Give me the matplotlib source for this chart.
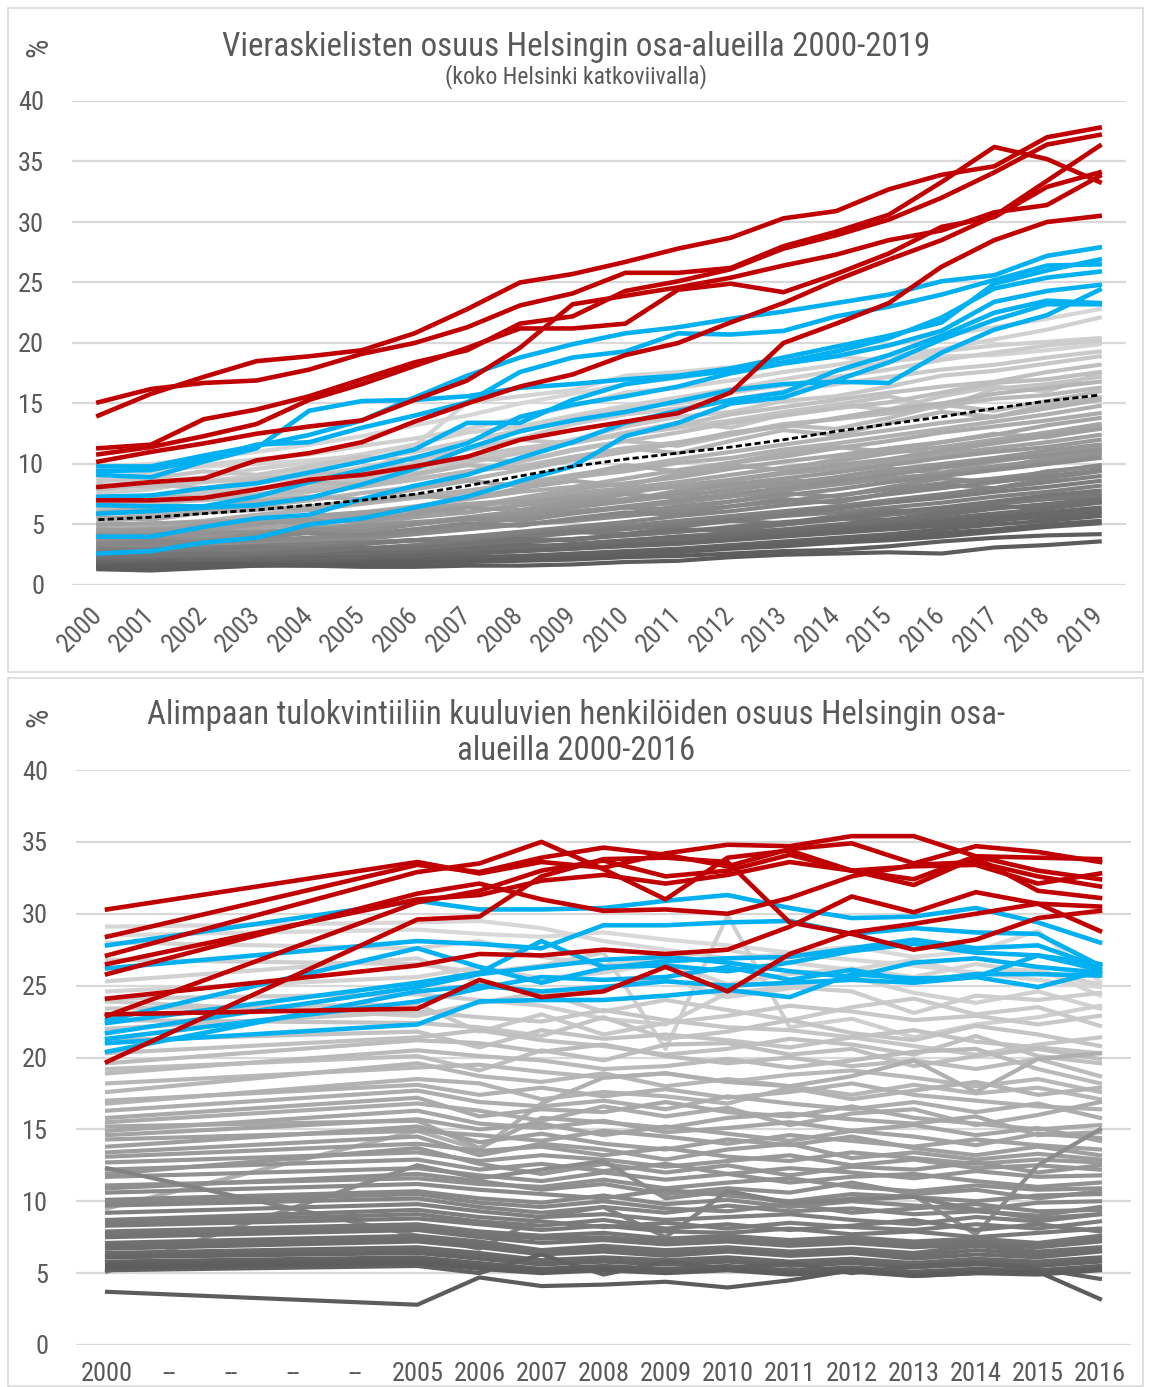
import numpy as np
import matplotlib
matplotlib.use("Agg")
import matplotlib.pyplot as plt
from matplotlib.patches import Rectangle

plt.rcParams['font.family'] = ['Roboto Condensed', 'Liberation Sans Narrow', 'Liberation Sans', 'DejaVu Sans']

W, H = 1149, 1387
TXT = '#595959'
RED = '#c00000'
BLUE = '#00b0f0'
GRID = '#d9d9d9'

# ---------------- top chart: foreign-language speakers 2000-2019 ----------------
years_top = [str(y) for y in range(2000, 2020)]

helsinki_top = [5.4, 5.6, 5.9, 6.2, 6.6, 7.0, 7.5, 8.2, 9.0, 9.8, 10.4, 10.9, 11.4, 12.0, 12.7, 13.3, 13.9, 14.6, 15.2, 15.7]

red_top = [
    [14.0, 15.8, 17.2, 18.5, 18.9, 19.4, 20.8, 22.8, 25.0, 25.7, 26.7, 27.8, 28.7, 30.3, 30.9, 32.7, 33.9, 34.6, 37.0, 37.8],
    [15.1, 16.2, 16.7, 16.9, 17.8, 19.1, 20.0, 21.3, 23.1, 24.1, 25.8, 25.8, 26.2, 28.0, 29.2, 30.6, 33.3, 36.2, 35.2, 33.3],
    [11.3, 11.6, 13.7, 14.5, 15.6, 17.0, 18.4, 19.4, 21.6, 22.2, 24.3, 25.1, 26.1, 27.8, 28.9, 30.2, 32.0, 34.1, 36.4, 37.2],
    [10.8, 11.4, 12.3, 13.3, 15.3, 16.6, 18.1, 19.6, 21.2, 21.2, 21.6, 24.4, 24.9, 24.2, 25.7, 27.4, 29.6, 30.4, 32.9, 34.1],
    [10.2, 11.0, 11.7, 12.5, 13.1, 13.6, 15.3, 16.9, 19.6, 23.2, 23.9, 24.6, 25.4, 26.4, 27.3, 28.5, 29.3, 30.8, 31.4, 33.8],
    [8.1, 8.5, 8.8, 10.3, 10.9, 11.8, 13.5, 15.0, 16.4, 17.4, 19.0, 20.0, 21.7, 23.3, 25.2, 26.9, 28.5, 30.5, 33.4, 36.3],
    [7.0, 7.0, 7.2, 7.9, 8.7, 9.1, 9.8, 10.6, 12.0, 12.8, 13.5, 14.2, 15.9, 20.0, 21.6, 23.3, 26.3, 28.5, 30.0, 30.5],
]

blue_top = [
    [9.8, 9.8, 10.7, 11.5, 12.4, 13.6, 15.5, 17.3, 18.8, 19.9, 20.8, 21.3, 22.0, 22.6, 23.3, 24.0, 25.1, 25.6, 27.2, 27.9],
    [9.1, 8.9, 10.2, 11.3, 14.4, 15.2, 15.3, 15.6, 16.3, 16.6, 17.0, 17.3, 17.9, 18.8, 19.7, 20.6, 21.7, 24.9, 26.0, 26.9],
    [9.4, 9.5, 10.4, 11.6, 11.8, 13.0, 14.0, 15.1, 17.6, 18.8, 19.3, 20.8, 20.7, 21.0, 22.2, 23.0, 24.0, 25.2, 26.4, 26.5],
    [7.3, 7.4, 8.0, 8.4, 9.3, 10.2, 11.2, 13.4, 13.4, 15.3, 16.6, 17.2, 17.7, 18.4, 19.3, 20.4, 22.1, 24.5, 25.4, 25.9],
    [6.6, 6.5, 6.5, 7.3, 8.5, 9.5, 10.5, 11.7, 13.9, 14.9, 15.6, 16.4, 17.5, 18.3, 18.9, 19.8, 21.0, 23.4, 24.3, 24.8],
    [5.9, 6.1, 6.4, 6.6, 7.2, 8.3, 9.6, 11.3, 12.7, 13.6, 14.3, 15.2, 16.1, 16.6, 16.8, 16.7, 19.2, 21.1, 22.3, 24.4],
    [4.0, 4.0, 4.8, 5.5, 5.8, 7.1, 8.2, 9.1, 10.5, 11.8, 13.4, 14.4, 15.3, 15.9, 17.7, 19.0, 20.6, 22.5, 23.5, 23.3],
    [2.6, 2.8, 3.5, 3.9, 5.0, 5.5, 6.4, 7.3, 8.6, 9.8, 12.3, 13.4, 15.0, 15.5, 16.9, 18.4, 20.3, 21.9, 23.2, 23.2],
]

gray_top = [
    [9.8, 10.0, 10.5, 11.0, 11.6, 12.3, 13.2, 14.0, 15.0, 15.8, 16.6, 17.1, 17.8, 18.5, 19.2, 19.8, 20.6, 21.3, 22.0, 22.8],
    [8.9, 9.2, 9.9, 10.4, 10.8, 11.5, 12.1, 12.9, 13.8, 14.8, 15.9, 16.3, 16.9, 17.6, 18.2, 18.9, 19.5, 20.3, 21.1, 22.1],
    [8.2, 8.5, 8.9, 9.6, 10.1, 10.8, 11.6, 12.6, 13.1, 14.0, 14.8, 15.5, 16.2, 17.0, 17.7, 18.4, 19.3, 19.8, 20.1, 20.4],
    [7.6, 7.9, 8.6, 9.0, 9.6, 10.3, 11.0, 11.9, 12.8, 13.7, 14.6, 15.0, 15.9, 16.5, 17.2, 17.8, 18.6, 19.2, 19.8, 20.2],
    [9.4, 9.6, 9.8, 10.0, 10.3, 10.7, 11.5, 15.1, 15.6, 16.1, 17.3, 17.6, 18.0, 18.4, 18.9, 18.5, 18.9, 19.0, 19.4, 19.9],
    [6.9, 7.3, 7.8, 8.4, 9.0, 9.7, 10.6, 11.2, 12.1, 13.3, 14.1, 14.6, 15.3, 16.0, 16.6, 17.2, 17.8, 18.2, 18.8, 19.3],
    [7.2, 7.1, 7.6, 8.0, 8.3, 8.8, 9.6, 10.4, 11.2, 12.0, 13.1, 13.9, 14.3, 15.2, 15.6, 16.4, 17.3, 17.7, 18.3, 18.9],
    [6.3, 6.6, 7.1, 7.5, 8.0, 8.6, 9.2, 10.1, 10.9, 11.8, 12.5, 13.2, 14.1, 14.7, 15.3, 15.9, 16.4, 16.8, 17.6, 18.2],
    [5.9, 6.0, 6.4, 7.0, 7.7, 8.3, 8.8, 9.3, 10.2, 11.2, 11.9, 12.6, 13.4, 14.0, 14.6, 15.1, 15.9, 16.7, 17.0, 17.6],
    [8.6, 8.8, 9.4, 9.1, 9.8, 10.6, 10.3, 11.2, 12.0, 11.7, 12.6, 13.4, 13.0, 14.1, 14.9, 14.5, 15.6, 16.4, 16.0, 17.5],
    [8.3, 8.1, 8.5, 8.8, 9.1, 9.4, 10.0, 10.6, 11.3, 11.8, 12.4, 13.0, 13.6, 14.3, 14.9, 15.6, 14.6, 16.2, 16.6, 17.2],
    [5.2, 5.6, 6.1, 6.5, 7.0, 7.6, 8.1, 8.7, 9.5, 10.3, 11.0, 11.7, 12.6, 13.1, 13.8, 14.5, 15.0, 15.8, 16.3, 16.8],
    [6.6, 6.9, 7.0, 7.4, 7.8, 8.1, 8.7, 9.4, 9.8, 10.6, 11.3, 11.8, 12.5, 13.3, 13.7, 14.2, 14.8, 15.4, 15.7, 16.3],
    [7.9, 8.3, 8.0, 8.6, 9.3, 9.0, 9.8, 10.5, 10.2, 11.1, 11.9, 11.5, 12.4, 13.2, 12.9, 13.8, 14.9, 14.4, 15.2, 16.0],
    [7.0, 7.4, 7.2, 7.9, 8.5, 8.3, 9.1, 9.9, 9.6, 10.5, 11.3, 10.9, 11.9, 12.8, 12.4, 13.4, 14.3, 13.9, 14.9, 15.5],
    [4.8, 5.0, 5.3, 5.8, 6.2, 6.7, 7.2, 7.6, 8.4, 9.1, 9.7, 10.4, 11.0, 11.6, 12.2, 12.8, 13.4, 13.9, 14.6, 15.3],
    [5.5, 5.7, 6.0, 6.2, 6.5, 6.9, 7.3, 7.8, 8.4, 8.9, 9.4, 10.1, 10.5, 11.2, 11.7, 12.3, 12.9, 13.5, 14.1, 14.8],
    [4.2, 4.5, 4.8, 5.1, 5.6, 6.0, 6.5, 7.1, 7.7, 8.1, 8.8, 9.5, 10.1, 10.6, 11.3, 11.9, 12.6, 13.1, 13.6, 14.2],
    [3.9, 4.1, 4.4, 4.7, 5.0, 5.5, 5.9, 6.5, 7.2, 7.9, 8.4, 8.9, 9.6, 10.2, 10.7, 11.3, 11.8, 12.4, 13.2, 13.8],
    [4.5, 4.7, 4.9, 5.3, 5.6, 5.8, 6.3, 6.7, 7.0, 7.6, 8.0, 8.5, 9.1, 9.7, 10.2, 10.9, 11.4, 12.0, 12.6, 13.3],
    [6.0, 6.4, 6.2, 6.9, 7.3, 7.1, 7.9, 8.6, 8.2, 9.0, 9.9, 9.4, 10.1, 10.9, 11.4, 11.0, 11.8, 12.5, 12.2, 13.0],
    [5.6, 5.4, 6.0, 6.5, 6.2, 6.9, 7.4, 7.1, 8.0, 8.6, 8.2, 9.2, 9.9, 9.5, 10.4, 11.2, 10.8, 11.9, 12.6, 12.9],
    [3.5, 3.8, 4.1, 4.3, 4.7, 5.0, 5.6, 6.0, 6.6, 7.0, 7.6, 8.2, 8.7, 9.3, 9.9, 10.4, 11.1, 11.7, 12.3, 12.9],
    [5.0, 5.1, 5.2, 5.4, 5.7, 6.0, 6.2, 6.5, 6.9, 7.3, 7.8, 8.1, 8.6, 9.2, 9.6, 10.1, 10.8, 11.3, 11.8, 12.4],
    [3.2, 3.4, 3.7, 4.0, 4.4, 4.7, 5.1, 5.6, 6.1, 6.7, 7.1, 7.6, 8.3, 8.8, 9.3, 9.9, 10.5, 11.0, 11.4, 12.0],
    [3.8, 3.9, 4.0, 4.3, 4.5, 4.9, 5.2, 5.5, 5.9, 6.4, 6.9, 7.4, 7.8, 8.4, 8.9, 9.5, 10.0, 10.5, 11.1, 11.6],
    [4.6, 4.4, 5.0, 5.3, 5.1, 5.7, 6.3, 6.0, 6.6, 7.3, 7.0, 7.8, 8.4, 8.1, 8.9, 9.6, 9.3, 10.2, 10.8, 11.4],
    [2.9, 3.1, 3.3, 3.6, 3.9, 4.2, 4.6, 5.0, 5.5, 6.0, 6.5, 7.0, 7.5, 8.0, 8.6, 9.1, 9.7, 10.3, 10.7, 11.2],
    [4.3, 4.6, 4.5, 5.0, 5.4, 5.2, 5.9, 6.4, 6.2, 6.9, 7.5, 7.2, 8.0, 8.7, 8.4, 9.3, 9.9, 9.6, 10.5, 11.0],
    [4.1, 4.2, 4.3, 4.4, 4.6, 4.8, 5.1, 5.4, 5.7, 6.1, 6.4, 6.8, 7.3, 7.8, 8.3, 8.8, 9.2, 9.8, 10.3, 10.8],
    [2.6, 2.8, 3.0, 3.3, 3.6, 3.8, 4.2, 4.6, 5.0, 5.4, 5.9, 6.5, 6.9, 7.4, 7.9, 8.5, 9.0, 9.5, 10.0, 10.5],
    [3.3, 3.4, 3.5, 3.7, 3.9, 4.1, 4.4, 4.7, 5.0, 5.3, 5.7, 6.1, 6.5, 6.9, 7.4, 7.9, 8.4, 8.8, 9.3, 9.9],
    [3.6, 3.9, 3.7, 4.2, 4.6, 4.4, 5.0, 5.5, 5.3, 5.9, 6.4, 6.2, 6.9, 7.6, 7.3, 8.1, 8.8, 8.5, 9.4, 9.8],
    [2.4, 2.5, 2.7, 2.9, 3.2, 3.4, 3.7, 4.0, 4.4, 4.8, 5.2, 5.7, 6.1, 6.6, 7.0, 7.5, 8.0, 8.5, 9.0, 9.5],
    [3.4, 3.6, 3.5, 3.9, 4.3, 4.1, 4.6, 5.1, 4.9, 5.5, 6.0, 5.8, 6.5, 7.1, 6.8, 7.6, 8.3, 8.0, 8.8, 9.4],
    [2.8, 2.9, 3.0, 3.2, 3.3, 3.5, 3.7, 4.0, 4.3, 4.6, 4.9, 5.3, 5.7, 6.1, 6.5, 7.0, 7.5, 8.0, 8.5, 9.0],
    [2.2, 2.3, 2.5, 2.6, 2.8, 3.0, 3.3, 3.6, 3.9, 4.3, 4.6, 5.0, 5.4, 5.8, 6.3, 6.8, 7.2, 7.7, 8.1, 8.6],
    [3.0, 3.0, 3.1, 3.2, 3.4, 3.5, 3.7, 3.9, 4.1, 4.4, 4.7, 5.0, 5.3, 5.7, 6.0, 6.4, 6.8, 7.3, 7.7, 8.2],
    [2.0, 2.1, 2.2, 2.4, 2.6, 2.8, 3.0, 3.2, 3.5, 3.8, 4.1, 4.4, 4.8, 5.2, 5.5, 6.0, 6.4, 6.9, 7.4, 7.8],
    [2.5, 2.5, 2.6, 2.7, 2.9, 3.0, 3.2, 3.4, 3.6, 3.8, 4.1, 4.4, 4.7, 5.0, 5.4, 5.8, 6.2, 6.7, 7.1, 7.5],
    [2.7, 2.6, 2.9, 3.1, 3.0, 3.4, 3.7, 3.5, 4.0, 4.4, 4.2, 4.8, 5.3, 5.1, 5.7, 6.2, 6.0, 6.7, 7.1, 7.3],
    [1.8, 1.9, 2.0, 2.1, 2.3, 2.5, 2.7, 2.9, 3.1, 3.4, 3.7, 4.0, 4.3, 4.6, 5.0, 5.4, 5.8, 6.3, 6.7, 7.1],
    [2.3, 2.4, 2.6, 2.5, 2.8, 3.1, 3.0, 3.4, 3.8, 3.7, 4.2, 4.6, 4.5, 5.0, 5.5, 5.4, 6.0, 6.5, 6.4, 6.9],
    [2.1, 2.1, 2.2, 2.3, 2.4, 2.6, 2.7, 2.9, 3.1, 3.3, 3.5, 3.8, 4.1, 4.4, 4.7, 5.1, 5.5, 5.9, 6.3, 6.8],
    [1.6, 1.7, 1.8, 1.9, 2.0, 2.2, 2.4, 2.6, 2.8, 3.0, 3.3, 3.5, 3.8, 4.1, 4.5, 4.9, 5.2, 5.6, 6.0, 6.4],
    [1.9, 1.9, 2.0, 2.1, 2.2, 2.3, 2.4, 2.6, 2.8, 3.0, 3.2, 3.4, 3.7, 4.0, 4.3, 4.6, 4.9, 5.3, 5.7, 6.1],
    [1.9, 2.0, 2.2, 2.1, 2.4, 2.7, 2.6, 3.0, 3.3, 3.2, 3.6, 4.0, 3.9, 4.4, 4.8, 4.7, 5.2, 5.7, 5.5, 6.0],
    [1.5, 1.5, 1.6, 1.7, 1.8, 1.9, 2.1, 2.3, 2.4, 2.6, 2.8, 3.0, 3.3, 3.6, 3.9, 4.2, 4.6, 5.0, 5.3, 5.7],
    [1.7, 1.7, 1.8, 1.8, 1.9, 2.0, 2.1, 2.2, 2.4, 2.5, 2.7, 2.9, 3.1, 3.4, 3.6, 3.9, 4.3, 4.6, 5.0, 5.3],
    [1.4, 1.4, 1.5, 1.6, 1.7, 1.8, 1.9, 2.0, 2.2, 2.3, 2.5, 2.7, 3.0, 3.2, 3.5, 3.7, 4.0, 4.4, 4.8, 5.1],
    [1.5, 1.6, 1.7, 1.7, 1.6, 1.8, 1.8, 1.9, 2.0, 2.1, 2.3, 2.4, 2.6, 2.8, 2.9, 3.2, 3.6, 3.9, 4.1, 4.2],
    [1.3, 1.2, 1.4, 1.6, 1.6, 1.5, 1.5, 1.6, 1.6, 1.7, 1.9, 2.0, 2.3, 2.5, 2.6, 2.7, 2.6, 3.1, 3.3, 3.6],
]

# ---------------- bottom chart: lowest income quintile 2000-2016 ----------------
labels_bottom = ['2000', '--', '--', '--', '--', '2005', '2006', '2007', '2008', '2009',
                 '2010', '2011', '2012', '2013', '2014', '2015', '2016']
# categories that have data (the "--" slots are empty and bridged)
x_bottom = [0, 5, 6, 7, 8, 9, 10, 11, 12, 13, 14, 15, 16]

red_bottom = [
    [30.3, 33.6, 32.8, 33.6, 33.2, 34.2, 34.8, 34.7, 35.4, 35.4, 34.0, 33.9, 33.8],
    [28.4, 33.4, 32.9, 33.9, 34.6, 34.1, 33.3, 34.5, 34.9, 33.5, 34.7, 34.3, 33.6],
    [27.1, 32.9, 33.5, 35.0, 33.1, 31.0, 33.9, 34.4, 33.0, 32.4, 34.0, 33.0, 32.4],
    [26.5, 31.0, 31.3, 32.3, 32.7, 32.1, 32.7, 33.6, 33.0, 32.0, 33.9, 31.6, 31.1],
    [25.8, 31.4, 32.1, 31.0, 30.2, 30.3, 30.0, 31.1, 32.6, 33.4, 33.6, 32.6, 31.9],
    [24.1, 26.4, 27.2, 27.1, 27.5, 27.2, 27.5, 29.1, 31.2, 30.1, 31.5, 30.7, 28.8],
    [23.0, 23.4, 25.4, 24.2, 24.6, 26.3, 24.6, 27.2, 28.7, 29.3, 30.0, 30.7, 30.5],
    [19.7, 29.6, 29.8, 32.6, 33.8, 33.9, 33.6, 29.4, 28.6, 27.5, 28.2, 29.7, 30.2],
    [22.9, 30.8, 31.6, 33.0, 33.7, 32.6, 33.0, 34.1, 33.0, 33.3, 33.4, 32.1, 32.8],
]

blue_bottom = [
    [27.8, 30.9, 30.3, 30.3, 30.4, 30.9, 31.3, 30.4, 29.7, 29.8, 30.4, 29.4, 28.0],
    [26.2, 28.1, 27.9, 27.6, 29.2, 29.2, 29.4, 29.5, 28.6, 29.0, 28.7, 28.6, 26.4],
    [22.6, 27.6, 26.3, 25.2, 26.2, 26.7, 26.9, 27.0, 27.6, 28.2, 27.6, 27.8, 26.3],
    [22.4, 25.2, 25.9, 28.1, 26.3, 26.4, 26.0, 26.6, 27.4, 27.9, 27.3, 27.1, 26.1],
    [21.7, 24.9, 25.8, 26.3, 26.8, 27.0, 26.6, 26.0, 25.6, 26.6, 26.9, 26.3, 25.9],
    [21.3, 23.9, 24.8, 25.6, 25.4, 25.6, 26.3, 25.4, 26.1, 25.3, 25.8, 25.8, 25.7],
    [21.0, 22.3, 23.9, 24.0, 24.0, 24.3, 24.7, 24.2, 25.8, 25.5, 25.6, 24.9, 26.0],
    [20.4, 24.6, 25.0, 24.6, 24.9, 25.3, 25.0, 25.2, 25.4, 25.2, 25.6, 27.1, 26.5],
]

gray_bottom = [
    [29.1, 29.4, 29.5, 29.0, 28.1, 27.5, 26.9, 27.2, 26.8, 26.4, 25.9, 25.4, 24.9],
    [28.5, 28.9, 28.6, 28.4, 28.7, 28.2, 27.8, 27.3, 27.7, 27.0, 27.4, 28.8, 25.3],
    [28.0, 27.6, 28.1, 27.0, 26.4, 26.9, 27.5, 26.6, 26.1, 26.8, 25.7, 26.2, 24.3],
    [26.8, 26.5, 25.9, 26.4, 27.3, 20.6, 29.9, 22.1, 22.7, 21.4, 22.3, 22.8, 23.6],
    [25.3, 26.9, 25.2, 24.4, 24.9, 25.5, 24.2, 24.8, 25.6, 24.5, 23.8, 24.6, 23.4],
    [24.6, 25.6, 26.3, 25.5, 25.9, 26.6, 25.1, 25.8, 26.2, 25.6, 26.5, 25.9, 25.1],
    [24.1, 24.4, 24.0, 23.6, 22.7, 22.3, 24.5, 24.9, 24.6, 23.1, 24.3, 24.0, 24.5],
    [23.9, 22.9, 23.8, 24.5, 23.2, 24.0, 23.3, 22.6, 23.5, 24.1, 23.0, 23.5, 22.2],
    [23.4, 23.7, 21.8, 23.0, 21.6, 22.4, 22.9, 23.6, 23.2, 22.6, 22.9, 22.3, 22.9],
    [22.6, 22.4, 22.1, 21.5, 22.8, 21.3, 21.8, 22.6, 21.7, 21.2, 22.2, 21.6, 20.8],
    [22.0, 23.2, 22.8, 22.5, 23.3, 22.6, 22.1, 21.9, 21.4, 20.8, 20.2, 20.9, 21.4],
    [21.2, 21.8, 20.7, 21.9, 21.3, 21.6, 21.2, 20.7, 21.4, 21.9, 21.1, 20.7, 20.3],
    [20.3, 21.4, 21.9, 21.2, 20.8, 20.2, 20.6, 21.3, 20.9, 20.2, 21.5, 20.1, 19.6],
    [19.6, 21.2, 21.0, 20.4, 20.9, 20.1, 19.6, 20.0, 19.4, 19.8, 19.2, 19.9, 18.7],
    [19.2, 20.1, 19.1, 20.5, 19.8, 20.9, 21.0, 20.2, 20.6, 19.4, 20.1, 20.6, 19.9],
    [18.9, 20.5, 20.1, 19.8, 19.2, 19.4, 19.9, 19.3, 19.8, 20.4, 20.6, 19.2, 18.2],
    [18.2, 19.3, 19.5, 19.0, 18.6, 18.9, 18.3, 18.8, 19.1, 18.6, 18.0, 18.5, 17.6],
    [17.6, 19.6, 18.7, 18.3, 18.9, 18.0, 18.5, 18.0, 17.4, 18.1, 17.5, 17.9, 17.1],
    [9.5, 14.9, 13.6, 16.8, 18.6, 18.9, 18.3, 18.0, 18.7, 19.8, 17.6, 19.9, 20.3],
    [17.0, 18.1, 17.4, 17.9, 17.3, 17.8, 17.2, 17.6, 18.2, 17.4, 17.0, 16.6, 16.4],
    [16.8, 18.5, 18.2, 17.1, 17.6, 17.3, 16.8, 17.9, 17.1, 17.7, 18.3, 17.4, 17.9],
    [16.3, 17.7, 16.9, 16.6, 17.0, 16.4, 17.3, 16.8, 16.4, 16.9, 16.2, 16.8, 15.8],
    [15.8, 17.2, 15.9, 16.4, 16.2, 16.9, 16.2, 15.9, 16.6, 15.8, 15.4, 15.0, 15.3],
    [15.5, 16.8, 16.3, 15.6, 16.6, 15.9, 16.5, 15.3, 16.1, 16.4, 15.3, 16.0, 16.9],
    [15.2, 15.6, 13.7, 15.8, 15.5, 15.1, 15.8, 16.1, 15.7, 15.4, 15.9, 14.6, 14.8],
    [14.9, 16.3, 15.4, 15.1, 15.6, 14.8, 15.1, 15.5, 14.9, 15.3, 14.6, 15.1, 14.2],
    [14.6, 15.7, 15.0, 15.4, 14.6, 15.2, 14.7, 14.2, 14.9, 14.5, 13.9, 14.7, 14.4],
    [14.3, 14.9, 14.6, 14.2, 14.9, 14.5, 14.0, 14.6, 14.2, 13.8, 14.3, 13.9, 13.6],
    [13.8, 15.2, 14.1, 14.7, 14.0, 13.6, 14.3, 13.9, 14.5, 13.7, 13.2, 13.8, 13.2],
    [13.4, 14.5, 13.2, 14.0, 13.6, 12.9, 13.6, 14.0, 13.0, 13.4, 12.9, 13.3, 12.9],
    [13.1, 14.0, 13.5, 13.8, 13.2, 13.7, 13.1, 12.8, 13.4, 13.0, 12.6, 12.9, 12.7],
    [12.7, 13.4, 12.8, 13.2, 12.9, 12.4, 12.8, 13.2, 12.5, 12.9, 12.3, 12.5, 12.2],
    [12.2, 12.9, 12.2, 12.6, 12.1, 12.6, 11.9, 12.3, 12.0, 11.6, 12.1, 11.7, 11.8],
    [11.9, 13.7, 12.6, 11.9, 12.6, 12.0, 12.5, 11.8, 12.4, 12.2, 12.7, 12.0, 12.5],
    [5.1, 12.5, 11.6, 12.2, 12.8, 10.2, 10.7, 9.8, 10.2, 10.4, 7.7, 12.5, 15.0],
    [11.7, 12.3, 11.8, 11.4, 12.0, 11.5, 11.9, 11.3, 11.7, 11.9, 11.4, 11.0, 11.3],
    [11.1, 11.6, 11.2, 11.0, 11.5, 10.9, 11.3, 11.6, 11.0, 10.7, 11.1, 10.8, 10.9],
    [10.9, 11.9, 11.4, 10.8, 11.2, 10.5, 10.9, 10.6, 11.3, 10.5, 10.8, 10.2, 10.7],
    [12.3, 7.6, 6.7, 8.9, 9.6, 7.5, 10.7, 9.9, 10.1, 10.3, 9.4, 8.8, 9.1],
    [10.6, 11.2, 10.8, 10.5, 10.2, 10.8, 10.4, 10.0, 10.5, 10.3, 10.0, 10.4, 10.5],
    [10.1, 10.7, 10.2, 9.9, 10.4, 9.8, 10.1, 9.6, 10.0, 9.7, 9.4, 9.9, 10.0],
    [9.9, 10.5, 9.9, 9.6, 10.0, 9.5, 9.3, 9.8, 9.2, 9.5, 9.8, 9.3, 9.4],
    [9.7, 10.2, 9.6, 9.2, 9.6, 9.2, 9.7, 9.3, 9.5, 9.1, 9.3, 9.0, 9.6],
    [9.2, 9.8, 9.3, 8.9, 9.1, 8.7, 8.9, 9.1, 8.7, 8.4, 8.9, 8.6, 9.1],
    [8.7, 9.4, 8.9, 8.6, 8.2, 8.5, 8.1, 8.5, 8.2, 8.0, 8.4, 8.1, 8.6],
    [8.5, 9.1, 8.6, 8.3, 8.7, 8.1, 8.4, 8.0, 8.3, 8.7, 8.0, 8.4, 7.9],
    [8.3, 8.8, 8.4, 8.0, 8.3, 7.9, 7.8, 8.1, 7.7, 7.9, 7.5, 7.8, 8.1],
    [7.9, 8.4, 7.9, 7.6, 7.8, 7.4, 7.6, 7.3, 7.5, 7.2, 7.4, 7.1, 7.6],
    [7.7, 8.2, 7.7, 7.4, 7.5, 7.2, 7.4, 7.1, 7.3, 7.0, 7.2, 6.9, 7.4],
    [7.5, 8.0, 7.5, 7.1, 7.3, 7.0, 7.2, 6.9, 7.1, 6.8, 7.0, 6.8, 7.2],
    [7.1, 7.6, 7.2, 6.6, 6.9, 6.6, 6.8, 6.5, 6.7, 6.4, 6.9, 6.5, 6.8],
    [6.9, 7.4, 7.0, 6.5, 6.7, 6.4, 6.6, 6.3, 6.5, 6.2, 6.6, 6.3, 6.6],
    [6.7, 7.2, 6.8, 6.3, 6.5, 6.2, 6.5, 6.2, 6.4, 6.0, 6.3, 6.1, 6.5],
    [6.4, 6.8, 6.4, 5.9, 6.1, 5.9, 6.1, 5.8, 6.0, 5.7, 6.0, 5.8, 6.1],
    [6.2, 6.6, 6.2, 5.7, 6.0, 5.7, 5.9, 5.6, 5.8, 5.5, 5.8, 5.6, 5.9],
    [6.1, 6.4, 6.0, 5.6, 5.8, 5.6, 5.8, 5.5, 5.7, 5.4, 5.6, 5.5, 5.8],
    [5.8, 6.1, 5.7, 5.3, 5.5, 5.3, 5.5, 5.2, 5.4, 5.1, 5.3, 5.2, 5.5],
    [5.6, 5.9, 5.5, 5.2, 5.4, 5.1, 5.3, 5.0, 5.2, 4.9, 5.2, 5.0, 5.3],
    [5.2, 5.5, 5.0, 6.3, 4.9, 5.8, 5.3, 5.7, 5.0, 5.5, 5.7, 5.3, 4.6],
    [5.4, 5.7, 5.3, 5.0, 5.2, 5.0, 5.2, 4.9, 5.1, 4.8, 5.0, 4.9, 5.2],
    [3.7, 2.8, 4.7, 4.1, 4.2, 4.4, 4.0, 4.5, 5.2, 4.8, 5.0, 5.1, 3.2],
]


def px(x):
    return x / W


def py(y):
    return 1 - y / H


def gray_shades(series, light, dark):
    # lighter shade for higher series, darker for lower ones
    means = np.array([np.mean(s) for s in series])
    rank = means.argsort().argsort() / max(len(series) - 1, 1)
    lo = np.array(matplotlib.colors.to_rgb(dark))
    hi = np.array(matplotlib.colors.to_rgb(light))
    return [tuple(lo + (hi - lo) * r) for r in rank], means.argsort()[::-1]


def style_axes(ax, labels):
    ax.set_xlim(-0.5, len(labels) - 0.5)
    ax.set_ylim(0, 40)
    ax.set_yticks(range(0, 41, 5))
    ax.set_xticks(range(len(labels)))
    for s in ax.spines.values():
        s.set_visible(False)
    ax.grid(axis='y', color=GRID, lw=1.6)
    ax.set_axisbelow(True)
    ax.tick_params(length=0, colors=TXT, labelsize=19)
    ax.tick_params(axis='y', pad=20)


fig = plt.figure(figsize=(W / 100, H / 100), dpi=100)

# panel frames
fig.patches.append(Rectangle((px(8), py(672)), px(1135), 664 / H, transform=fig.transFigure,
                             fill=False, ec=GRID, lw=1.2))
fig.patches.append(Rectangle((px(8), py(1386)), px(1135), 708 / H, transform=fig.transFigure,
                             fill=False, ec=GRID, lw=1.2))

# ---- top
ax1 = fig.add_axes([px(72), py(585), px(1126 - 72), (585 - 101) / H])
style_axes(ax1, years_top)
xt = np.arange(len(years_top))
cols, order = gray_shades(gray_top, '#d6d6d6', '#5c5c5c')
for i in order:
    ax1.plot(xt, gray_top[i], color=cols[i], lw=3.0, solid_joinstyle='round', clip_on=False)
for s in blue_top:
    ax1.plot(xt, s, color=BLUE, lw=3.3, solid_joinstyle='round', clip_on=False)
for s in red_top:
    ax1.plot(xt, s, color=RED, lw=3.3, solid_joinstyle='round', clip_on=False)
ax1.plot(xt, helsinki_top, color='black', lw=2.0, ls=(0, (2.2, 1.2)), clip_on=False)
ax1.set_xticklabels(years_top, rotation=45, ha='right', va='center', rotation_mode='anchor')
ax1.tick_params(axis='x', pad=19)

fig.text(px(576), py(47), 'Vieraskielisten osuus Helsingin osa-alueilla 2000-2019',
         ha='center', va='center', fontsize=23.7, color=TXT)
fig.text(px(576), py(77), '(koko Helsinki katkoviivalla)',
         ha='center', va='center', fontsize=17, color=TXT)
fig.text(px(39), py(47), '%', rotation=90, ha='center', va='center', fontsize=22, color=TXT)

# ---- bottom
ax2 = fig.add_axes([px(76), py(1345), px(1131 - 76), (1345 - 770) / H])
style_axes(ax2, labels_bottom)
cols, order = gray_shades(gray_bottom, '#d9d9d9', '#5c5c5c')
for i in order:
    ax2.plot(x_bottom, gray_bottom[i], color=cols[i], lw=3.0, solid_joinstyle='round', clip_on=False)
for s in blue_bottom:
    ax2.plot(x_bottom, s, color=BLUE, lw=3.3, solid_joinstyle='round', clip_on=False)
for s in red_bottom:
    ax2.plot(x_bottom, s, color=RED, lw=3.3, solid_joinstyle='round', clip_on=False)
ax2.set_xticklabels(labels_bottom)
ax2.tick_params(axis='x', pad=12)

fig.text(px(576), py(733), 'Alimpaan tulokvintiiliin kuuluvien henkilöiden osuus Helsingin osa-\nalueilla 2000-2016',
         ha='center', va='center', fontsize=23.6, color=TXT, linespacing=1.15)
fig.text(px(39), py(717), '%', rotation=90, ha='center', va='center', fontsize=22, color=TXT)

fig.savefig('out.png', dpi=100)
